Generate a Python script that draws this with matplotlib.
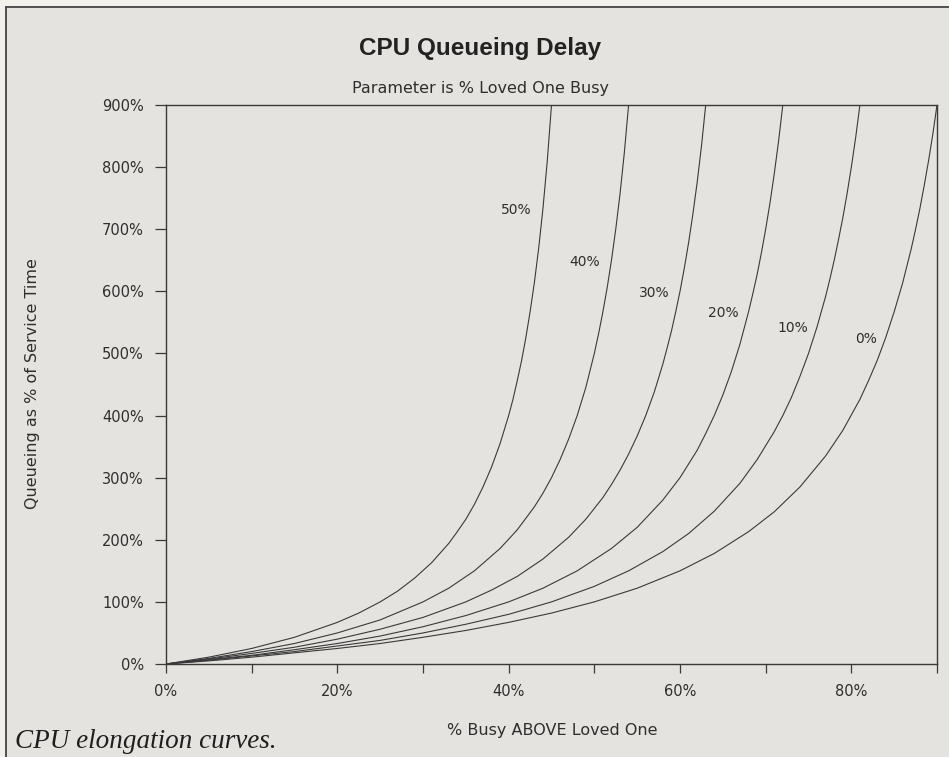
import matplotlib
matplotlib.use("Agg")
import matplotlib.pyplot as plt
from matplotlib.lines import Line2D
from matplotlib.patches import Rectangle

# loved-one busy parameter for each curve, with label positions
params = ["0%", "10%", "20%", "30%", "40%", "50%"]
label_x = [81.7, 73.2, 65.0, 57.0, 48.9, 40.9]
label_y = [523, 541, 565, 597, 647, 731]

# % busy above loved one (x) vs queueing as % of service time (y)
busy_0 = [0, 5, 10, 15, 20, 25, 30, 35, 40, 45, 50, 55, 60, 64, 68, 71, 74, 77, 79, 81,
          82, 83, 84, 85, 86, 87, 87.5, 88, 88.5, 89, 89.5, 90]
delay_0 = [0, 5, 11, 18, 25, 33, 43, 54, 67, 82, 100, 122, 150, 178, 213, 245, 285, 335, 376, 426,
           456, 488, 525, 567, 614, 669, 700, 733, 770, 809, 852, 900]

busy_10 = [0, 5, 10, 15, 20, 25, 30, 35, 40, 45, 50, 54, 58, 61, 64, 67, 69, 71, 72, 73,
           74, 75, 76, 77, 77.5, 78, 78.5, 79, 79.5, 80, 80.5, 81]
delay_10 = [0, 6, 13, 20, 29, 38, 50, 64, 80, 100, 125, 150, 181, 210, 246, 291, 329, 374, 400, 429,
            463, 500, 543, 592, 620, 650, 683, 718, 757, 800, 847, 900]

busy_20 = [0, 5, 10, 15, 20, 25, 30, 35, 40, 44, 48, 52, 55, 58, 60, 62, 63, 64, 65, 66,
           67, 68, 68.5, 69, 69.5, 70, 70.5, 71, 71.5, 72]
delay_20 = [0, 7, 14, 23, 33, 45, 60, 78, 100, 122, 150, 186, 220, 264, 300, 344, 371, 400, 433, 471,
            515, 567, 596, 627, 662, 700, 742, 789, 841, 900]

busy_30 = [0, 5, 10, 15, 20, 25, 30, 35, 38, 41, 44, 47, 49, 51, 52, 53, 54, 55, 56, 57,
           58, 58.5, 59, 59.5, 60, 60.5, 61, 61.5, 62, 62.5, 63]
delay_30 = [0, 8, 17, 27, 40, 56, 75, 100, 119, 141, 169, 204, 233, 268, 289, 312, 338, 367, 400, 438,
            483, 509, 536, 567, 600, 637, 678, 724, 775, 833, 900]

busy_40 = [0, 5, 10, 15, 20, 25, 30, 33, 36, 39, 41, 43, 44, 45, 46, 47, 48, 49, 50, 50.5,
           51, 51.5, 52, 52.5, 53, 53.5, 54]
delay_40 = [0, 9, 20, 33, 50, 71, 100, 122, 150, 186, 216, 253, 275, 300, 329, 362, 400, 445, 500, 532,
            567, 606, 650, 700, 757, 823, 900]

busy_50 = [0, 5, 10, 15, 20, 22.5, 25, 27, 29, 31, 33, 34, 35, 36, 37, 38, 39, 40, 40.5, 41,
           41.5, 42, 42.5, 43, 43.5, 44, 44.5, 45]
delay_50 = [0, 11, 25, 43, 67, 82, 100, 117, 138, 163, 194, 213, 233, 257, 285, 317, 355, 400, 426, 456,
            488, 525, 567, 614, 669, 733, 809, 900]

xs = [busy_0, busy_10, busy_20, busy_30, busy_40, busy_50]
ys = [delay_0, delay_10, delay_20, delay_30, delay_40, delay_50]

x_ticks = [0, 10, 20, 30, 40, 50, 60, 70, 80, 90]
x_tick_labels = ["0%", "", "20%", "", "40%", "", "60%", "", "80%", ""]
y_ticks = [0, 100, 200, 300, 400, 500, 600, 700, 800, 900]
y_tick_labels = ["0%", "100%", "200%", "300%", "400%", "500%", "600%", "700%", "800%", "900%"]

paper = "#e4e3df"
ink = "#2e2e2e"
line_col = "#3a3a3a"

fig = plt.figure(figsize=(9.49, 7.57), dpi=100, facecolor="#f1f0eb")
fig.patches.append(Rectangle((6 / 949, 0), 1, 1 - 7 / 757, transform=fig.transFigure,
                             facecolor=paper, edgecolor="none", zorder=-2))
fig.add_artist(Line2D([6 / 949, 6 / 949], [0, 1 - 7 / 757], transform=fig.transFigure,
                      color="#444444", lw=1.3))
fig.add_artist(Line2D([6 / 949, 1], [1 - 7 / 757, 1 - 7 / 757], transform=fig.transFigure,
                      color="#444444", lw=1.3))

ax = fig.add_axes([166 / 949, 1 - 664 / 757, 771 / 949, 559 / 757])
ax.set_facecolor("none")

for x, y in zip(xs, ys):
    ax.plot(x, y, color=line_col, lw=0.8)

for name, lx, ly in zip(params, label_x, label_y):
    ax.text(lx, ly, name, ha="center", va="center", fontsize=10, color=ink)

ax.set_xlim(0, 90)
ax.set_ylim(0, 900)
ax.set_xticks(x_ticks, x_tick_labels)
ax.set_yticks(y_ticks, y_tick_labels)
ax.tick_params(axis="x", direction="out", length=6.5, width=0.9, pad=8,
               labelsize=10.5, colors=line_col, labelcolor=ink)
ax.tick_params(axis="y", direction="out", length=8, width=0.9, pad=8,
               labelsize=10.5, colors=line_col, labelcolor=ink)
for s in ax.spines.values():
    s.set_color(line_col)
    s.set_linewidth(1.0)

fig.text(480 / 949, 1 - 48 / 757, "CPU Queueing Delay", ha="center", va="center",
         fontsize=17.5, fontweight="bold", family="Liberation Sans", color="#222222")
fig.text(480 / 949, 1 - 88 / 757, "Parameter is % Loved One Busy", ha="center", va="center",
         fontsize=11.5, color=ink)
fig.text(552 / 949, 1 - 730 / 757, "% Busy ABOVE Loved One", ha="center", va="center",
         fontsize=11.5, color=ink)
fig.text(33 / 949, 1 - 384 / 757, "Queueing as % of Service Time", ha="center", va="center",
         rotation=90, fontsize=11.5, color=ink)
fig.text(15 / 949, 1 - 742 / 757, "CPU elongation curves.", ha="left", va="center",
         fontsize=19.5, style="italic", family="Liberation Serif", color="#1e1e1e")

fig.savefig("out.png", dpi=100, facecolor=fig.get_facecolor())
